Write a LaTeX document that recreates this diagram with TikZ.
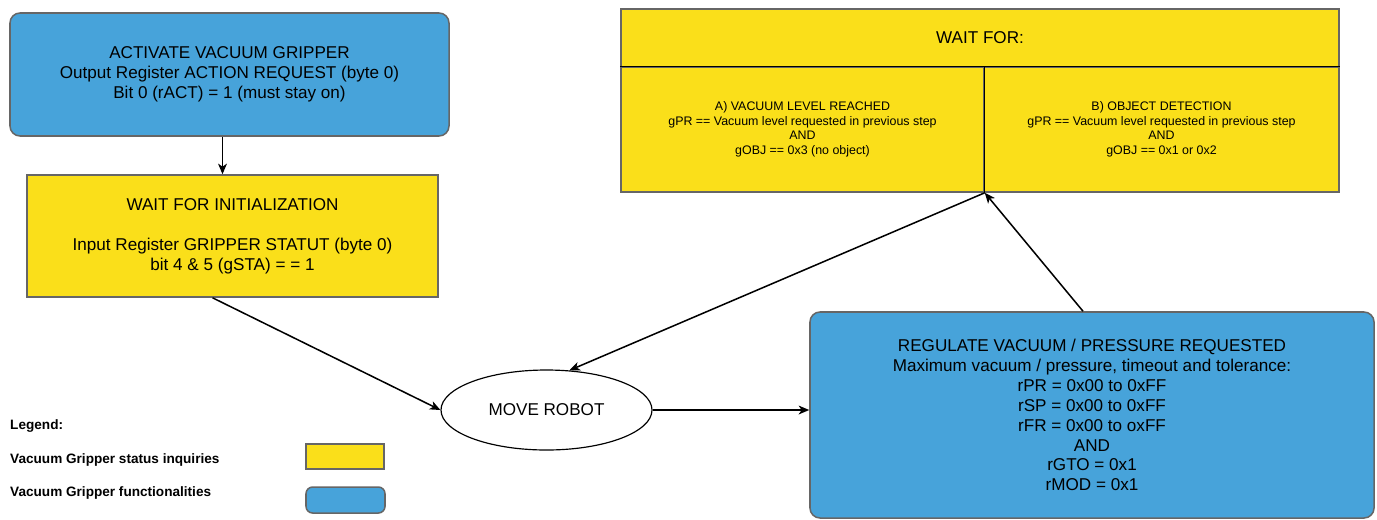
\documentclass[tikz,border=0pt]{standalone}
\usepackage{fontspec}
\setmainfont{Liberation Sans}
\usetikzlibrary{arrows.meta,shapes.geometric,calc}
\definecolor{statusyellow}{RGB}{250,223,26}
\definecolor{funcblue}{RGB}{71,163,218}
\definecolor{boxgray}{RGB}{102,102,102}

\begin{document}
\begin{tikzpicture}[x=0.03cm,y=-0.03cm,
            big/.style={font=\fontsize{14.6}{17}\selectfont,align=center},
            small/.style={font=\fontsize{10.6}{12.4}\selectfont,align=center},
            status/.style={draw=boxgray,line width=1.3pt,fill=statusyellow,inner sep=0pt},
            func/.style={draw=boxgray,line width=1.3pt,fill=funcblue,rounded corners=0.3cm,inner sep=0pt},
            flow/.style={line width=1.3pt,-{Stealth[length=9pt,width=7.5pt,inset=2.5pt]}},
            legend/.style={font=\fontsize{11.6}{13}\selectfont\bfseries,anchor=west,inner sep=0pt}]
            \useasboundingbox (0,0) rectangle (1377,519);

            \node[func,big,minimum width=13.17cm,minimum height=3.69cm](act) at (229.5,74.5){ACTIVATE VACUUM GRIPPER\\Output Register ACTION REQUEST (byte 0)\\Bit 0 (rACT) = 1 (must stay on)};
            \node[status,big,minimum width=12.33cm,minimum height=3.66cm](init) at (232.5,236){WAIT FOR INITIALIZATION\\[17pt]Input Register GRIPPER STATUT (byte 0)\\bit 4 \& 5 (gSTA) = = 1};

            \node[status,big,minimum width=21.54cm,minimum height=1.74cm](head) at (980,38){WAIT FOR:};
            \node[status,small,minimum width=10.89cm,minimum height=3.75cm](condA) at (802.5,129.5){A) VACUUM LEVEL REACHED\\gPR == Vacuum level requested in previous step\\AND\\gOBJ == 0x3 (no object)};
            \node[status,small,minimum width=10.65cm,minimum height=3.75cm](condB) at (1161.5,129.5){B) OBJECT DETECTION\\gPR == Vacuum level requested in previous step\\AND\\gOBJ == 0x1 or 0x2};
            \draw[line width=1.1pt](condA.north west)--(condB.north east);
            \draw[line width=1.1pt](condA.north east)--(condA.south east);

            \node[ellipse,draw,line width=1pt,big,minimum width=6.33cm,minimum height=2.4cm,inner sep=0pt](robot) at (546.5,410){MOVE ROBOT};
            \node[func,big,minimum width=16.92cm,minimum height=6.18cm](reg) at (1092,415){REGULATE VACUUM / PRESSURE REQUESTED\\Maximum vacuum / pressure, timeout and tolerance:\\rPR = 0x00 to 0xFF\\rSP = 0x00 to 0xFF\\rFR = 0x00 to oxFF\\AND\\rGTO = 0x1\\rMOD = 0x1};

            \node[legend](legtitle) at (10,426){Legend:};
            \node[legend](legstatus) at (10,460){Vacuum Gripper status inquiries};
            \node[legend](legfunc) at (10,493){Vacuum Gripper functionalities};
            \node[status,minimum width=2.34cm,minimum height=0.75cm](swatchstatus) at (345,456.5){};
            \node[func,rounded corners=0.2cm,minimum width=2.37cm,minimum height=0.78cm](swatchfunc) at (345.5,500){};

            \draw[flow]($(act.south)+(-7,0)$)--($(init.north)+(-10,0)$);
            \draw[flow]($(init.south)+(-20,0)$)--(robot.west);
            \draw[flow](robot.east)--(robot.east-|reg.west);
            \draw[flow]($(reg.north)+(-9,0)$)--(condA.south east);
            \draw[flow](condA.south east)--(robot.60);
        \end{tikzpicture}
\end{document}
